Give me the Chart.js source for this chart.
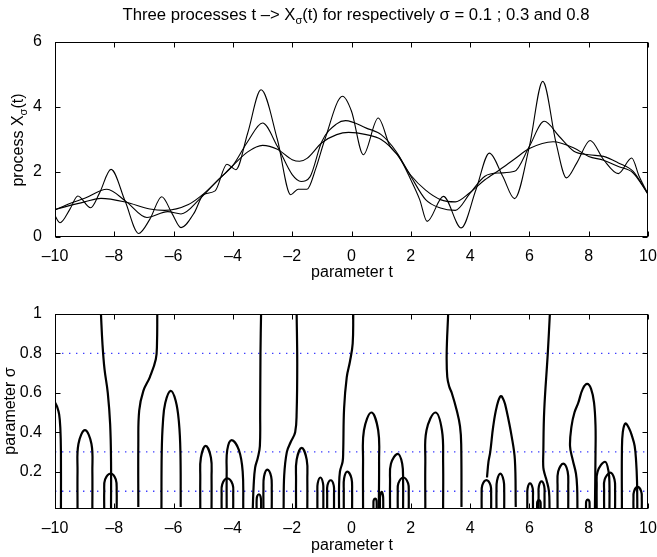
<!DOCTYPE html>
<html>
<head>
<meta charset="utf-8">
<script src="https://cdn.jsdelivr.net/npm/chart.js@4.4.0/dist/chart.umd.min.js"></script>
<style>
  html, body { margin: 0; padding: 0; background: #fff; }
  body { width: 657px; height: 557px; position: relative; overflow: hidden;
         font-family: "Liberation Sans", Arial, sans-serif; color: #000; }
  canvas { position: absolute; left: 0; }
  #cTop { top: 0; }
  #cBot { top: 290px; }
  .lbl { position: absolute; font-size: 16px; white-space: nowrap; line-height: 16px; }
  .ttl { font-size: 16.7px; }
  .ctr { transform: translate(-50%, -50%); }
  .rot { transform: translate(-50%, -50%) rotate(-90deg); }
  sub { font-size: 11px; vertical-align: -4px; line-height: 0; }
</style>
</head>
<body>
<canvas id="cTop" width="657" height="290"></canvas>
<canvas id="cBot" width="657" height="267"></canvas>

<div class="lbl ctr ttl" style="left:356px; top:15px;">Three processes t &ndash;&gt; X<sub>σ</sub>(t) for respectively σ = 0.1 ; 0.3 and 0.8</div>
<div class="lbl ctr" style="left:352px; top:272px;">parameter t</div>
<div class="lbl ctr" style="left:352px; top:545px;">parameter t</div>
<div class="lbl rot" style="left:18px; top:140px;">process X<sub>σ</sub>(t)</div>
<div class="lbl rot" style="left:10px; top:411px;">parameter σ</div>

<script>
// ---- axes / ticks ----
const tTicks = [-10, -8, -6, -4, -2, 0, 2, 4, 6, 8, 10];
const procTicks = [0, 2, 4, 6];
const sigmaTicks = [0.2, 0.4, 0.6, 0.8, 1];
const sigmaLevels = [0.1, 0.3, 0.8];   // dotted lines = the three processes

// ---- top panel: processes ----
// sigma = 0.1
const t01 = [-10, -9.83, -9.5, -9.23, -8.8, -8.5, -8.11, -7.63, -7.18, -6.8, -6.4, -6.05, -5.75, -5.3, -5.0,
             -4.6, -4.2, -3.9, -3.5, -3.05, -2.5, -2.05, -1.8, -1.5, -1.2, -0.9, -0.3, 0.0, 0.4, 0.9,
             1.3, 1.6, 2.0, 2.3, 2.55, 3.1, 3.7, 4.2, 4.65, 5.1, 5.5, 6.0, 6.45, 6.9, 7.25, 7.6,
             8.05, 8.5, 9.0, 9.45, 9.7, 10];
const x01 = [0.65, 0.44, 0.85, 1.26, 0.9, 1.35, 2.08, 1.09, 0.11, 0.55, 1.24, 0.72, 0.29, 0.75, 1.3,
             1.42, 2.24, 2.07, 3.2, 4.53, 3.0, 1.3, 1.47, 1.47, 2.12, 3.0, 4.33, 3.87, 2.53, 3.66,
             2.79, 2.48, 1.76, 1.15, 0.48, 1.25, 0.28, 1.46, 2.58, 1.87, 1.18, 2.79, 4.79, 2.89, 1.82, 2.28,
             2.97, 2.38, 1.95, 2.43, 1.87, 1.32];
// sigma = 0.3
const t03 = [-10, -9.5, -9, -8.25, -7.6, -6.9, -6.2, -5.75, -5.1, -4.5, -4, -3.5, -3, -2.5, -2, -1.7,
             -1.4, -1, -0.5, -0.2, 0.5, 1, 1.5, 2, 2.5, 3, 3.5, 4, 4.5, 5, 5.5, 6, 6.5, 7, 7.5, 8, 8.5,
             9, 9.5, 10];
const x03 = [0.83, 1.03, 1.19, 1.47, 1.09, 0.6, 0.78, 0.71, 1.19, 1.76, 2.2, 2.94, 3.51, 2.79, 1.92, 1.71,
             1.85, 2.94, 3.48, 3.58, 3.35, 3.15, 2.64, 1.87, 1.15, 0.89, 0.82, 1.35, 1.87, 1.97, 2.02,
             2.79, 3.56, 3.1, 2.64, 2.53, 2.48, 2.28, 2.02, 1.32];
// sigma = 0.8
const t08 = [-10, -9, -8.45, -7.6, -6.8, -6.3, -5.5, -5, -4.5, -4, -3.5, -3, -2.5, -2, -1.75, -1.5, -1,
             -0.5, -0.1, 0.5, 1, 1.5, 2, 2.5, 3, 3.5, 4, 4.5, 5, 5.5, 6, 6.8, 7.5, 8, 8.5, 9, 9.5, 10];
const x08 = [0.85, 1.08, 1.19, 1.07, 0.86, 0.82, 1.0, 1.32, 1.75, 2.2, 2.62, 2.82, 2.7, 2.38, 2.33, 2.42,
             2.9, 3.15, 3.22, 3.15, 3.0, 2.58, 1.9, 1.44, 1.15, 1.08, 1.37, 1.76, 2.07, 2.4, 2.72, 2.93,
             2.74, 2.48, 2.36, 2.17, 1.97, 1.32];

// ---- bottom panel: extrema lines (t, sigma) ----
const longBranches = [
  [[-8.45, 1], [-8.40, 0.85], [-8.33, 0.72], [-8.22, 0.6], [-8.14, 0.44], [-8.11, 0.25], [-8.11, 0.01]],
  [[-6.55, 1], [-6.56, 0.85], [-6.6, 0.77], [-6.8, 0.68], [-7.02, 0.61], [-7.16, 0.51], [-7.19, 0.34], [-7.19, 0.02]],
  [[-3.05, 1], [-3.07, 0.8], [-3.08, 0.5], [-3.09, 0.33], [-3.16, 0.27], [-3.25, 0.22], [-3.3, 0.13], [-3.33, 0.01]],
  [[-1.85, 1], [-1.83, 0.75], [-1.85, 0.5], [-1.9, 0.4], [-2.05, 0.35], [-2.18, 0.3], [-2.27, 0.18], [-2.29, 0.01]],
  [[0.06, 1], [0.04, 0.85], [-0.05, 0.76], [-0.16, 0.68], [-0.25, 0.52], [-0.28, 0.3], [-0.3, 0.25], [-0.39, 0.2], [-0.42, 0.12], [-0.42, 0.01]],
  [[3.26, 1], [3.21, 0.8], [3.23, 0.68], [3.3, 0.63], [3.38, 0.6], [3.55, 0.51], [3.66, 0.43], [3.7, 0.34], [3.71, 0.02]],
  [[6.69, 1], [6.62, 0.8], [6.5, 0.51], [6.47, 0.3], [6.47, 0.22], [6.53, 0.18], [6.58, 0.155], [6.66, 0.1], [6.68, 0.01]]
];
const edgeBranch = [[-10, 0.55], [-9.93, 0.53], [-9.86, 0.49], [-9.82, 0.42], [-9.8, 0.3], [-9.8, 0.01]];
const arches = [
  [[-9.24, 0.01], [-9.24, 0.2], [-9.21, 0.34], [-8.99, 0.41], [-8.77, 0.34], [-8.74, 0.2], [-8.74, 0.01]],
  [[-8.34, 0.01], [-8.34, 0.1], [-8.31, 0.16], [-8.12, 0.19], [-7.95, 0.16], [-7.92, 0.1], [-7.92, 0.01]],
  [[-6.41, 0.01], [-6.4, 0.3], [-6.36, 0.45], [-6.28, 0.55], [-6.1, 0.61], [-5.93, 0.56], [-5.82, 0.45], [-5.77, 0.3], [-5.76, 0.02]],
  [[-5.1, 0.01], [-5.1, 0.17], [-5.08, 0.27], [-4.92, 0.33], [-4.74, 0.27], [-4.72, 0.17], [-4.72, 0.01]],
  [[-4.38, 0.01], [-4.38, 0.08], [-4.36, 0.135], [-4.19, 0.165], [-4.01, 0.135], [-3.99, 0.08], [-3.99, 0.01]],
  [[-4.21, 0.01], [-4.21, 0.2], [-4.19, 0.31], [-4.04, 0.36], [-3.8, 0.31], [-3.67, 0.2], [-3.65, 0.01]],
  [[-3.2, 0.01], [-3.2, 0.05], [-3.18, 0.075], [-3.12, 0.085], [-3.07, 0.075], [-3.05, 0.05], [-3.05, 0.01]],
  [[-2.97, 0.01], [-2.97, 0.11], [-2.95, 0.175], [-2.84, 0.21], [-2.71, 0.175], [-2.69, 0.11], [-2.69, 0.01]],
  [[-1.87, 0.01], [-1.87, 0.16], [-1.85, 0.26], [-1.68, 0.32], [-1.51, 0.26], [-1.49, 0.16], [-1.49, 0.01]],
  [[-1.15, 0.01], [-1.15, 0.09], [-1.14, 0.14], [-1.05, 0.17], [-0.96, 0.14], [-0.95, 0.09], [-0.95, 0.01]],
  [[-0.82, 0.01], [-0.82, 0.08], [-0.81, 0.13], [-0.7, 0.156], [-0.6, 0.13], [-0.59, 0.08], [-0.59, 0.01]],
  [[-0.26, 0.01], [-0.26, 0.1], [-0.25, 0.165], [-0.14, 0.2], [0.0, 0.165], [0.02, 0.1], [0.02, 0.01]],
  [[0.39, 0.01], [0.39, 0.25], [0.42, 0.41], [0.67, 0.5], [0.9, 0.41], [0.93, 0.25], [0.92, 0.01]],
  [[0.74, 0.01], [0.74, 0.035], [0.75, 0.055], [0.8, 0.063], [0.84, 0.055], [0.85, 0.035], [0.85, 0.01]],
  [[0.96, 0.01], [0.96, 0.05], [0.97, 0.08], [1.02, 0.097], [1.06, 0.08], [1.07, 0.05], [1.07, 0.01]],
  [[1.3, 0.01], [1.3, 0.15], [1.33, 0.24], [1.56, 0.29], [1.71, 0.24], [1.74, 0.15], [1.74, 0.01]],
  [[1.56, 0.01], [1.56, 0.09], [1.58, 0.14], [1.75, 0.17], [1.91, 0.14], [1.93, 0.09], [1.93, 0.01]],
  [[2.49, 0.01], [2.49, 0.25], [2.53, 0.41], [2.83, 0.5], [3.05, 0.41], [3.09, 0.25], [3.09, 0.01]],
  [[4.39, 0.01], [4.39, 0.08], [4.41, 0.13], [4.55, 0.157], [4.69, 0.13], [4.71, 0.08], [4.71, 0.01]],
  [[4.57, 0.17], [4.62, 0.25], [4.68, 0.3], [4.78, 0.43], [4.9, 0.53], [5.03, 0.583], [5.14, 0.56], [5.23, 0.51], [5.4, 0.38], [5.51, 0.26], [5.54, 0.02]],
  [[4.89, 0.01], [4.89, 0.1], [4.91, 0.155], [5.02, 0.19], [5.13, 0.155], [5.15, 0.1], [5.15, 0.01]],
  [[5.93, 0.01], [5.93, 0.07], [5.94, 0.115], [6.02, 0.14], [6.11, 0.115], [6.12, 0.07], [6.12, 0.01]],
  [[6.26, 0.01], [6.26, 0.03], [6.27, 0.048], [6.32, 0.055], [6.37, 0.048], [6.38, 0.03], [6.38, 0.01]],
  [[6.31, 0.01], [6.31, 0.08], [6.32, 0.125], [6.41, 0.15], [6.5, 0.125], [6.51, 0.08], [6.51, 0.01]],
  [[6.95, 0.01], [6.95, 0.12], [6.97, 0.2], [7.14, 0.24], [7.29, 0.2], [7.31, 0.12], [7.31, 0.01]],
  [[7.62, 0.01], [7.61, 0.12], [7.57, 0.19], [7.46, 0.26], [7.37, 0.33], [7.42, 0.43], [7.52, 0.5], [7.65, 0.55],
   [7.8, 0.62], [7.95, 0.645], [8.08, 0.62], [8.18, 0.55], [8.23, 0.43], [8.23, 0.3], [8.21, 0.01]],
  [[7.91, 0.01], [7.91, 0.032], [7.92, 0.05], [7.97, 0.058], [8.02, 0.05], [8.03, 0.032], [8.03, 0.01]],
  [[8.27, 0.01], [8.27, 0.13], [8.3, 0.2], [8.55, 0.25], [8.67, 0.2], [8.7, 0.13], [8.7, 0.01]],
  [[8.52, 0.01], [8.52, 0.1], [8.54, 0.16], [8.73, 0.195], [8.87, 0.16], [8.89, 0.1], [8.89, 0.01]],
  [[9.12, 0.01], [9.12, 0.3], [9.15, 0.4], [9.24, 0.444], [9.36, 0.42], [9.46, 0.38], [9.55, 0.33], [9.6, 0.25], [9.63, 0.15], [9.64, 0.01]],
  [[9.51, 0.01], [9.51, 0.06], [9.53, 0.1], [9.65, 0.122], [9.77, 0.1], [9.79, 0.06], [9.79, 0.01]]
];

const FONT = { family: '"Liberation Sans", Arial, sans-serif', size: 16 };
const dash = s => String(s).replace('-', '\u2013');

// box + inward tick marks, matlab style
const boxPlugin = {
  id: 'box',
  afterDraw(chart) {
    const { ctx, chartArea: a, scales: { x, y } } = chart;
    const L = Math.round(a.left) + 0.5, R = Math.round(a.right) - 0.5;
    const T = Math.round(a.top) + 0.5, B = Math.round(a.bottom) - 0.5;
    ctx.save();
    ctx.strokeStyle = '#000';
    ctx.lineWidth = 1;
    ctx.strokeRect(L, T, R - L, B - T);
    ctx.beginPath();
    x.ticks.forEach(tk => {
      const px = Math.round(x.getPixelForValue(tk.value)) + 0.5;
      ctx.moveTo(px, B); ctx.lineTo(px, B - 5);
      ctx.moveTo(px, T); ctx.lineTo(px, T + 5);
    });
    y.ticks.forEach(tk => {
      const py = Math.round(y.getPixelForValue(tk.value)) + 0.5;
      ctx.moveTo(L, py); ctx.lineTo(L + 5, py);
      ctx.moveTo(R, py); ctx.lineTo(R - 5, py);
    });
    ctx.stroke();
    ctx.restore();
  }
};

function axes(yMin, yMax, yTicks, xH, yW) {
  return {
    x: {
      type: 'linear', min: -10, max: 10,
      grid: { display: false }, border: { display: false },
      afterBuildTicks: s => { s.ticks = tTicks.map(v => ({ value: v })); },
      afterFit: s => { s.height = xH; s.paddingLeft = 0; s.paddingRight = 0; },
      ticks: { font: FONT, color: '#000', padding: 2, maxRotation: 0, autoSkip: false, callback: dash }
    },
    y: {
      type: 'linear', min: yMin, max: yMax,
      grid: { display: false }, border: { display: false },
      afterBuildTicks: s => { s.ticks = yTicks.map(v => ({ value: v })); },
      afterFit: s => { s.width = yW; s.paddingTop = 0; s.paddingBottom = 0; },
      ticks: { font: FONT, color: '#000', padding: 5, autoSkip: false, callback: v => String(v) }
    }
  };
}

const pts = (ts, vs) => ts.map((t, i) => ({ x: t, y: vs[i] }));
const pairs = arr => arr.map(p => ({ x: p[0], y: p[1] }));

// top chart
const procLine = (data) => ({
  data, showLine: true, borderColor: '#000', borderWidth: 1.1, pointRadius: 0,
  cubicInterpolationMode: 'monotone', fill: false
});
new Chart(document.getElementById('cTop'), {
  type: 'scatter',
  data: { datasets: [procLine(pts(t01, x01)), procLine(pts(t03, x03)), procLine(pts(t08, x08))] },
  options: {
    responsive: false, animation: false,
    layout: { padding: { top: 42, right: 9, left: 0, bottom: 13 } },
    plugins: { legend: { display: false }, tooltip: { enabled: false } },
    scales: axes(0, 6, procTicks, 40, 55)
  },
  plugins: [boxPlugin]
});

// bottom chart
const branchLine = (arr) => ({
  data: pairs(arr), showLine: true, borderColor: '#000', borderWidth: 2.2, pointRadius: 0,
  tension: 0.4, fill: false
});
const levelLines = sigmaLevels.map(s => ({
  data: [{ x: -10, y: s }, { x: 10, y: s }], showLine: true, borderColor: '#3c3cff',
  borderWidth: 1.4, borderDash: [1.4, 5.6], pointRadius: 0, fill: false
}));
new Chart(document.getElementById('cBot'), {
  type: 'scatter',
  data: {
    datasets: [
      ...longBranches.map(branchLine),
      branchLine(edgeBranch),
      ...arches.map(branchLine),
      ...levelLines
    ]
  },
  options: {
    responsive: false, animation: false,
    layout: { padding: { top: 24, right: 9, left: 0, bottom: 8 } },
    plugins: { legend: { display: false }, tooltip: { enabled: false } },
    scales: axes(0.01, 1, sigmaTicks, 40, 55)
  },
  plugins: [boxPlugin]
});
</script>
</body>
</html>
